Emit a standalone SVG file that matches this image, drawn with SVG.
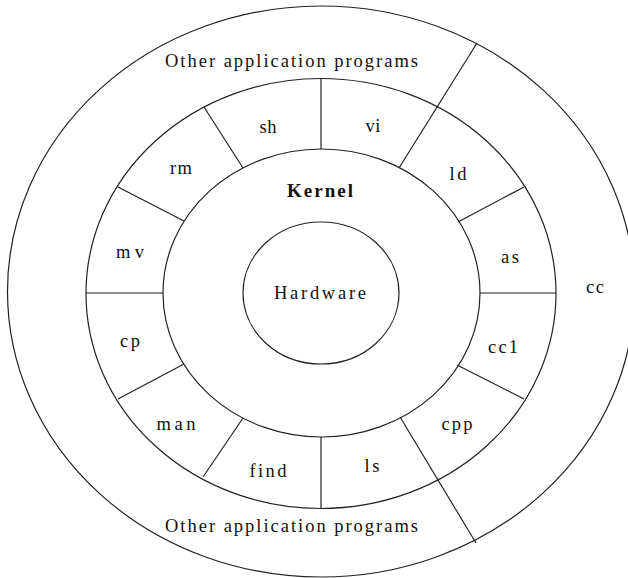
<svg xmlns="http://www.w3.org/2000/svg" width="628" height="578" viewBox="0 0 628 578">
  <style>
    .ring { fill: none; stroke: #222; stroke-width: 1.2; }
    .div { stroke: #222; stroke-width: 1.2; fill: none; }
    .lbl { font-family: "Liberation Serif", "Times New Roman", serif; font-size: 18.5px; fill: #111; text-anchor: middle; }
    .big { font-family: "Liberation Serif", "Times New Roman", serif; font-size: 19px; font-weight: bold; fill: #111; text-anchor: middle; }
  </style>
  <rect width="628" height="578" fill="#fff"/>

  <!-- concentric layers -->
  <g id="applications">
    <ellipse class="ring" cx="321" cy="291.5" rx="313.5" ry="285.5"/>
    <text class="lbl" x="291.5" y="67" textLength="253" lengthAdjust="spacing">Other application programs</text>
    <text class="lbl" x="291.5" y="532" textLength="253" lengthAdjust="spacing">Other application programs</text>
  </g>
  <g id="cc">
    <text class="lbl" x="595" y="293" textLength="18" lengthAdjust="spacing">cc</text>
  </g>
  <g id="utilities">
    <ellipse class="ring" cx="321" cy="293.5" rx="235" ry="215"/>
  </g>
  <g id="kernel">
    <ellipse class="ring" cx="321.5" cy="293" rx="158.5" ry="144"/>
    <text class="big" x="320" y="197" textLength="66" lengthAdjust="spacing">Kernel</text>
  </g>
  <g id="hardware">
    <ellipse class="ring" cx="321" cy="293" rx="78" ry="71"/>
    <text class="lbl" x="320" y="299" textLength="92" lengthAdjust="spacing">Hardware</text>
  </g>

  <!-- segment dividers -->
  <g id="connectors">
    <line class="div" x1="321" y1="78.5" x2="321" y2="149"/>
    <line class="div" x1="321" y1="437" x2="321" y2="508.5"/>
    <line class="div" x1="86" y1="293" x2="163" y2="293"/>
    <line class="div" x1="480" y1="293" x2="556" y2="293"/>
    <line class="div" x1="204" y1="107" x2="243" y2="168"/>
    <line class="div" x1="118" y1="187" x2="184" y2="221"/>
    <line class="div" x1="477" y1="43" x2="399" y2="168"/>
    <line class="div" x1="524" y1="187" x2="458" y2="222"/>
    <line class="div" x1="457" y1="365" x2="524" y2="399"/>
    <line class="div" x1="400" y1="417" x2="476" y2="543"/>
    <line class="div" x1="184" y1="364" x2="118" y2="399"/>
    <line class="div" x1="243" y1="418" x2="203" y2="477"/>
  </g>

  <!-- utility programs -->
  <g id="sh"><text class="lbl" x="268" y="133" textLength="17" lengthAdjust="spacing">sh</text></g>
  <g id="vi"><text class="lbl" x="373" y="132" textLength="15" lengthAdjust="spacing">vi</text></g>
  <g id="rm"><text class="lbl" x="181" y="174" textLength="22" lengthAdjust="spacing">rm</text></g>
  <g id="ld"><text class="lbl" x="458" y="180" textLength="17" lengthAdjust="spacing">ld</text></g>
  <g id="mv"><text class="lbl" x="130" y="258" textLength="28" lengthAdjust="spacing">mv</text></g>
  <g id="as"><text class="lbl" x="510" y="263" textLength="18" lengthAdjust="spacing">as</text></g>
  <g id="cp"><text class="lbl" x="130" y="347" textLength="20" lengthAdjust="spacing">cp</text></g>
  <g id="cc1"><text class="lbl" x="503" y="353" textLength="30" lengthAdjust="spacing">cc1</text></g>
  <g id="man"><text class="lbl" x="176" y="430" textLength="39" lengthAdjust="spacing">man</text></g>
  <g id="cpp"><text class="lbl" x="457" y="430" textLength="31" lengthAdjust="spacing">cpp</text></g>
  <g id="find"><text class="lbl" x="268" y="477" textLength="37" lengthAdjust="spacing">find</text></g>
  <g id="ls"><text class="lbl" x="372" y="472" textLength="15" lengthAdjust="spacing">ls</text></g>
</svg>
